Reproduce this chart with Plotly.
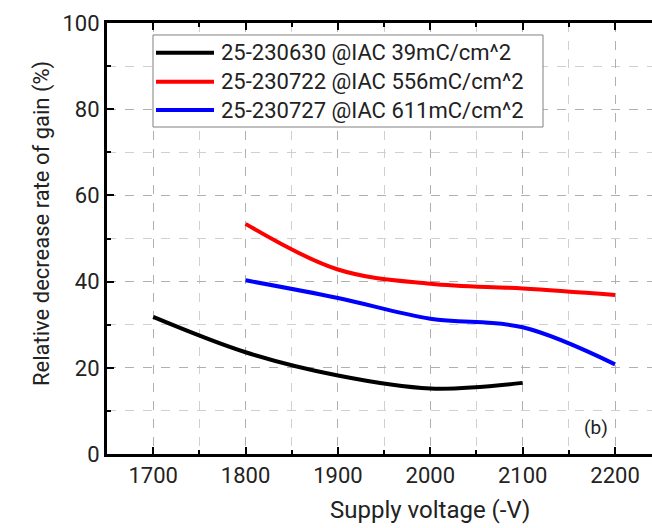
import plotly.graph_objects as go

# Supply voltage (-V) and relative decrease rate of gain (%)
voltage_a = [1700, 1800, 1900, 2000, 2100]
gain_drop_230630 = [31.8, 23.6, 18.2, 15.2, 16.5]

voltage_b = [1800, 1900, 2000, 2100, 2200]
gain_drop_230722 = [53.4, 42.8, 39.5, 38.4, 36.9]
gain_drop_230727 = [40.3, 36.2, 31.4, 29.4, 20.8]

series_names = [
    "25-230630 @IAC 39mC/cm^2",
    "25-230722 @IAC 556mC/cm^2",
    "25-230727 @IAC 611mC/cm^2",
]
series_colors = ["#000000", "#ff0000", "#0000ff"]

x_ticks = [1700, 1800, 1900, 2000, 2100, 2200]
y_ticks = [0, 20, 40, 60, 80, 100]

FONT = "Roboto"
TEXT = "#222222"

fig = go.Figure()
for xs, ys, name, color in [
    (voltage_a, gain_drop_230630, series_names[0], series_colors[0]),
    (voltage_b, gain_drop_230722, series_names[1], series_colors[1]),
    (voltage_b, gain_drop_230727, series_names[2], series_colors[2]),
]:
    fig.add_trace(go.Scatter(
        x=xs, y=ys, name=name, mode="lines", showlegend=False,
        line=dict(color=color, width=4, shape="spline", smoothing=1.0),
    ))

# Boxed legend drawn in paper coordinates
fig.add_shape(type="rect", xref="paper", yref="paper",
              x0=0.0844, x1=0.800, y0=0.7587, y1=0.9722,
              line=dict(color="#808080", width=1), fillcolor="#ffffff",
              layer="above")
legend_rows = [0.931, 0.8638, 0.798]
for name, color, ry in zip(series_names, series_colors, legend_rows):
    fig.add_shape(type="line", xref="paper", yref="paper",
                  x0=0.0899, x1=0.1963, y0=ry, y1=ry,
                  line=dict(color=color, width=4), layer="above")
    fig.add_annotation(x=0.2055, y=ry, xref="paper", yref="paper",
                       text=name, showarrow=False, xanchor="left",
                       yanchor="middle",
                       font=dict(family=FONT, size=22, color=TEXT))

fig.add_annotation(
    x=2195, y=3, xref="x", yref="y", text="(b)", showarrow=False,
    xanchor="right", yanchor="bottom",
    font=dict(family=FONT, size=19, color=TEXT),
)

# Axis titles
fig.add_annotation(x=2000, y=-0.166, xref="x", yref="paper",
                   text="Supply voltage (-V)", showarrow=False,
                   xanchor="center", yanchor="bottom",
                   font=dict(family=FONT, size=24, color=TEXT))
fig.add_annotation(x=-0.119, y=0.534, xref="paper", yref="paper",
                   text="Relative decrease rate of gain (%)", textangle=-90,
                   showarrow=False, xanchor="center", yanchor="middle",
                   font=dict(family=FONT, size=22, color=TEXT))

axis_common = dict(
    showline=True, linecolor="#000000", linewidth=3,
    ticks="inside", ticklen=7, tickwidth=2, tickcolor="#000000",
    showgrid=True, gridcolor="#b0b0b0", gridwidth=1, griddash="dash",
    zeroline=False,
    tickfont=dict(family=FONT, size=22, color=TEXT),
)

fig.update_xaxes(
    **axis_common,
    range=[1650, 2240], tickvals=x_ticks, mirror="allticks",
    minor=dict(tickvals=[1750, 1850, 1950, 2050, 2150], ticks="inside",
               ticklen=4, tickwidth=2, tickcolor="#000000",
               showgrid=True, gridcolor="#d0d0d0", griddash="dash"),
)
fig.update_yaxes(
    **axis_common,
    range=[0, 100], tickvals=y_ticks,
    minor=dict(tickvals=[10, 30, 50, 70, 90], ticks="inside",
               ticklen=4, tickwidth=2, tickcolor="#000000",
               showgrid=True, gridcolor="#d0d0d0", griddash="dash"),
)

fig.update_layout(
    width=652, height=528,
    margin=dict(l=107, r=0, t=23, b=74),
    plot_bgcolor="#ffffff", paper_bgcolor="#ffffff",
    showlegend=False,
)

fig.write_html("out.html")
